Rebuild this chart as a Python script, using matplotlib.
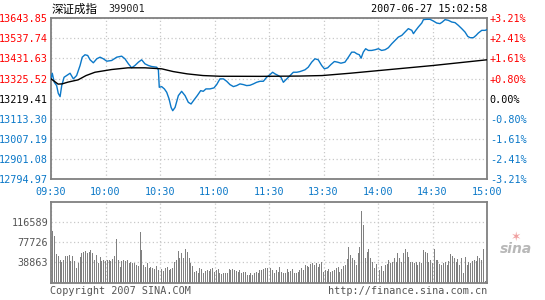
import numpy as np
import matplotlib.pyplot as plt
from matplotlib.ticker import FixedLocator

plt.rcParams['font.family'] = ['DejaVu Sans Mono', 'Noto Sans CJK SC']

# 行情数据 (分钟序号 0..240, 09:30 -> 15:00)
price_min = [0, 0.7, 1.8, 3.1, 4.0, 5.0, 5.9, 7.2, 8.6, 10.5, 12.3, 14.1, 16.0, 17.2, 18.7,
             20.2, 21.5, 23.3, 25.2, 27.0, 28.8, 30.7, 33.4, 36.2, 38.9, 40.7, 42.6, 44.4,
             46.2, 48.1, 49.9, 51.7, 53.6, 55.4, 58.2, 59.1, 59.6, 60.9, 62.4, 63.7, 65.0,
             66.1, 67.0, 68.3, 70.1, 71.9, 73.8, 75.6, 77.1, 78.7, 80.5, 82.4, 83.8, 85.3,
             87.5, 89.7, 91.2, 93.0, 94.9, 96.7, 98.5, 100.4, 102.2, 104.0, 105.9, 107.7,
             109.5, 111.4, 113.2, 115.1, 116.9, 118.7, 120.6, 122.0, 123.3, 125.1, 126.6,
             127.9, 129.8, 131.6, 133.4, 135.3, 137.1, 139.8, 141.6, 143.5, 145.3, 147.1,
             149.0, 150.5, 152.3, 154.1, 156.0, 157.8, 159.6, 161.8, 163.7, 165.5, 167.0,
             168.3, 169.7, 170.7, 171.9, 173.2, 174.7, 176.5, 178.4, 180.2, 182.0, 183.9,
             185.7, 187.6, 189.4, 191.2, 193.1, 194.9, 196.7, 198.6, 199.5, 200.8, 202.2,
             204.1, 205.0, 206.8, 208.6, 210.5, 212.3, 214.1, 215.4, 216.9, 218.7, 220.6,
             222.4, 224.2, 226.1, 227.9, 229.4, 230.7, 232.5, 234.0, 235.2, 237.1, 238.9, 240]
price_val = [13323.9, 13353.6, 13305.9, 13288.4, 13247.5, 13230.0, 13288.4, 13332.4, 13341.4,
             13353.6, 13323.9, 13341.4, 13394.5, 13438.5, 13451.2, 13447.5, 13424.7, 13408.8,
             13430.0, 13438.5, 13430.0, 13417.3, 13421.0, 13438.5, 13443.8, 13430.0, 13403.5,
             13382.3, 13394.5, 13412.0, 13424.7, 13403.5, 13394.5, 13389.2, 13385.5, 13371.7,
             13279.4, 13283.1, 13270.9, 13252.8, 13217.8, 13173.2, 13155.7, 13173.2, 13235.3,
             13258.1, 13235.3, 13199.8, 13191.3, 13212.5, 13235.3, 13261.8, 13258.1, 13270.9,
             13270.9, 13276.2, 13293.7, 13323.9, 13323.9, 13311.2, 13293.7, 13283.1, 13288.4,
             13297.4, 13293.7, 13288.4, 13290.0, 13297.4, 13305.9, 13311.2, 13311.2, 13332.4,
             13346.7, 13358.9, 13350.4, 13341.4, 13332.4, 13305.9, 13323.9, 13341.4, 13358.9,
             13358.9, 13362.6, 13371.7, 13385.5, 13412.0, 13430.0, 13424.7, 13394.5, 13377.0,
             13382.3, 13399.8, 13415.7, 13412.0, 13406.7, 13412.0, 13438.5, 13465.0, 13465.0,
             13456.6, 13451.2, 13433.2, 13465.0, 13483.1, 13474.1, 13474.1, 13477.8, 13483.1,
             13474.1, 13477.8, 13488.4, 13509.6, 13527.1, 13544.6, 13553.6, 13571.2, 13589.2,
             13580.2, 13562.7, 13580.2, 13597.7, 13618.9, 13636.9, 13638.5, 13638.5, 13629.5,
             13618.9, 13615.7, 13624.2, 13636.9, 13633.2, 13624.2, 13621.0, 13606.7, 13589.2,
             13571.2, 13548.3, 13541.4, 13541.4, 13553.6, 13565.8, 13580.2, 13580.2, 13583.9]

avg_min = [0, 1.7, 3.9, 6.1, 9.4, 14.9, 19.3, 24.2, 33.4, 42.4, 51.7, 60.9, 67.2, 74.9, 83.7,
           93.0, 115.1, 137.1, 149.2, 164.6, 186.6, 210.3, 240]
avg_val = [13323.9, 13312.2, 13296.3, 13297.4, 13306.9, 13318.6, 13341.4, 13358.9, 13373.3,
           13382.3, 13382.3, 13377.0, 13362.6, 13350.4, 13341.4, 13337.7, 13337.2, 13338.8,
           13341.4, 13353.6, 13373.3, 13394.5, 13424.7]

volume = [88000, 99500, 89400, 54900, 51100, 43400, 40200, 43400, 51100, 51100, 53000, 42100,
          51100, 41500, 27600, 37100, 49800, 56300, 59300, 60700, 56300, 59300, 62600, 57400,
          43400, 53000, 37100, 49800, 42100, 43400, 41500, 43400, 43400, 42100, 44800, 51100,
          83100, 43400, 30600, 42100, 43400, 42100, 43400, 37100, 40200, 38300, 38300, 33900,
          32000, 97600, 62600, 33900, 30600, 37100, 27600, 30600, 27600, 25600, 32000, 24300,
          27600, 25600, 23000, 27600, 29500, 24300, 25600, 27600, 40200, 43400, 60700, 46700,
          56300, 46700, 63900, 59300, 46700, 38300, 32000, 21100, 23000, 19100, 27600, 25600,
          19100, 23000, 24300, 23000, 25600, 27600, 21100, 24300, 25600, 19100, 16700, 19100,
          18000, 19100, 25600, 24300, 25600, 24300, 23000, 21100, 24300, 19100, 21100, 21100,
          14700, 14700, 18000, 14700, 19100, 21100, 18000, 24300, 24300, 25600, 27600, 27600,
          74000,
          27600, 24300, 19100, 24300, 21100, 29500, 21100, 19100, 18000, 25600, 21100, 23000,
          25600, 19100, 18000, 21100, 24300, 27600, 24300, 33900, 32000, 29500, 35800, 38300,
          33900, 38300, 29500, 35800, 40200, 21100, 24300, 23000, 25600, 21100, 23000, 24300,
          27600, 29500, 21100, 25600, 32000, 33900, 44800, 67800, 53000, 46700, 43400, 33900,
          56300, 67800, 137800, 110400, 46700, 59300, 63900, 46700, 40200, 27600, 35800, 33900,
          24300, 32000, 23000, 33900, 35800, 43400, 38300, 40200, 46700, 40200, 56300, 46700,
          40200, 57400, 65100, 59300, 49800, 40200, 40200, 38300, 40200, 33900, 40200, 37100,
          62600, 59300, 57400, 40200, 43400, 37100, 63900, 43400, 43400, 35800, 33900, 37100,
          40200, 33900, 42100, 54900, 51100, 46700, 40200, 44800, 33900, 46700, 18000, 49800,
          33900, 40200, 38300, 42100, 43400, 42100, 51100, 46700, 43400, 63900, 2600, 94500]

prev_close = 13219.41
price_ticks = [12794.97, 12901.08, 13007.19, 13113.30, 13219.41, 13325.52, 13431.63, 13537.74, 13643.85]
pct_labels = ['-3.21%', '-2.41%', '-1.61%', '-0.80%', '0.00%', '+0.80%', '+1.61%', '+2.41%', '+3.21%']
vol_ticks = [38863, 77726, 116589]
time_ticks = [0, 30, 60, 90, 120, 150, 180, 210, 240]
time_labels = ['09:30', '10:00', '10:30', '11:00', '11:30', '13:30', '14:00', '14:30', '15:00']

RED = '#ff0000'
BLUE = '#0b78c8'
GRAY = '#808080'
GRID = '#c8c8c8'
FS = 7.3

fig = plt.figure(figsize=(5.45, 3.0), dpi=100)
ax = fig.add_axes([51/545, 1-179/300, 436/545, 160.7/300])
axv = fig.add_axes([51/545, 1-282.7/300, 436/545, 81/300])

def style(a):
    for s in a.spines.values():
        s.set_color(GRAY)
        s.set_linewidth(1.3)
    a.tick_params(length=0, pad=2, labelsize=FS)
    a.grid(True, color=GRID, linestyle=(0, (1, 2)), linewidth=0.9)
    a.set_axisbelow(True)

# 分时图
ax.plot(price_min, price_val, color=BLUE, lw=1.0, zorder=3)
ax.plot(avg_min, avg_val, color='black', lw=1.0, zorder=3)
ax.set_xlim(0, 240)
ax.set_ylim(price_ticks[0], price_ticks[-1])
ax.yaxis.set_major_locator(FixedLocator(price_ticks))
ax.set_yticklabels([f'{v:.2f}' for v in price_ticks])
ax.xaxis.set_major_locator(FixedLocator(time_ticks))
ax.set_xticklabels(time_labels, color=BLUE)
style(ax)
ax.tick_params(axis='x', pad=6)
for lab, v in zip(ax.get_yticklabels(), price_ticks):
    lab.set_color(RED if v > prev_close else ('black' if v == prev_close else BLUE))

ax2 = ax.twinx()
ax2.set_ylim(ax.get_ylim())
ax2.yaxis.set_major_locator(FixedLocator(price_ticks))
ax2.set_yticklabels(pct_labels)
ax2.tick_params(length=0, pad=2, labelsize=FS)
for s in ax2.spines.values():
    s.set_visible(False)
for lab, v in zip(ax2.get_yticklabels(), price_ticks):
    lab.set_color(RED if v > prev_close else ('black' if v == prev_close else BLUE))

# 成交量
axv.bar(np.arange(len(volume)), volume, width=0.55, color=GRAY, zorder=3)
axv.set_xlim(0, 240)
axv.set_ylim(0, 4 * vol_ticks[0])
axv.yaxis.set_major_locator(FixedLocator(vol_ticks))
axv.set_yticklabels([str(v) for v in vol_ticks], color='#555555')
axv.xaxis.set_major_locator(FixedLocator(time_ticks))
axv.set_xticklabels([])
style(axv)

fig.text(52/545, 1-9/300, '深证成指', family=['Noto Sans CJK SC', 'DejaVu Sans'], fontsize=8.3,
         va='center', ha='left', color='black')
fig.text(108/545, 1-9/300, '399001', fontsize=FS, va='center', ha='left', color='#222222')
fig.text(487/545, 1-9/300, '2007-06-27 15:02:58', fontsize=FS, va='center', ha='right', color='black')
fig.text(50/545, 1-291/300, 'Copyright 2007 SINA.COM', fontsize=FS, va='center', ha='left', color='#555555')
fig.text(487/545, 1-291/300, 'http://finance.sina.com.cn', fontsize=FS, va='center', ha='right', color='#555555')
fig.text(516/545, 1-249/300, 'sina', fontsize=10, fontweight='bold', style='italic',
         family='DejaVu Sans', va='center', ha='center', color='#b8b8b8')
fig.text(516/545, 1-237/300, '\u2736', fontsize=9, family='DejaVu Sans', va='center', ha='center', color='#f0a0a0')

fig.savefig('out.png', dpi=100)
